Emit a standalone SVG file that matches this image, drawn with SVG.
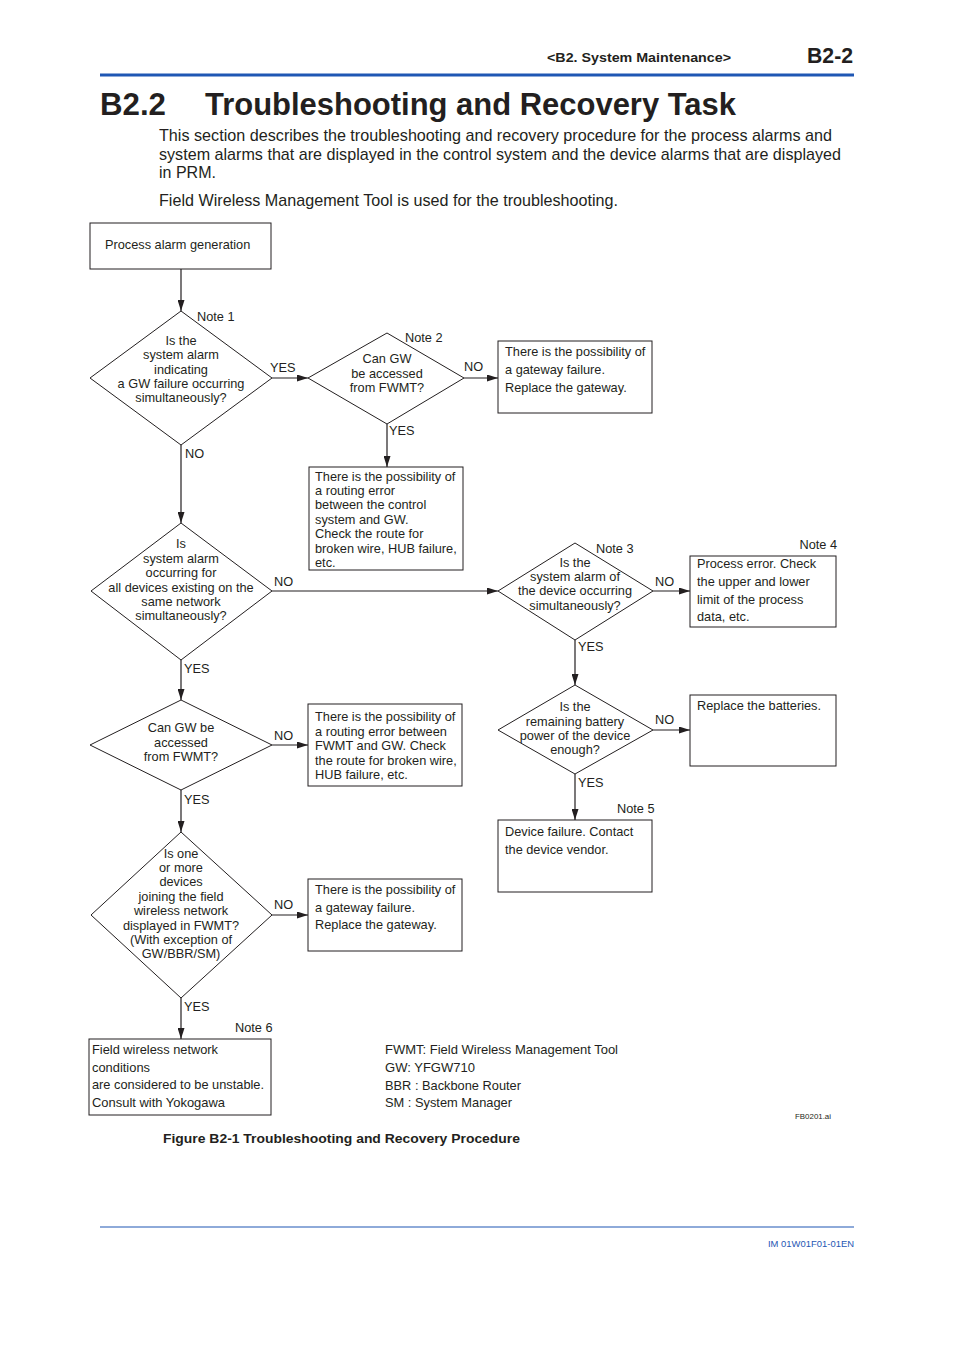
<svg xmlns="http://www.w3.org/2000/svg" width="954" height="1350" viewBox="0 0 954 1350">
<style>
text{font-family:"Liberation Sans",Arial,sans-serif;fill:#231f20}
.t{font-size:12.75px}
.c{font-size:12.75px;text-anchor:middle}
.n{font-size:12.75px}
.lbl{font-size:12.75px}
.box{fill:#fff;stroke:#231f20;stroke-width:1}
.dia{fill:#fff;stroke:#231f20;stroke-width:1}
.con{stroke:#231f20;stroke-width:1.2;fill:none;marker-end:url(#ah)}
</style>
<defs>
<marker id="ah" viewBox="0 0 11 7" refX="11" refY="3.5" markerWidth="11" markerHeight="7" markerUnits="userSpaceOnUse" orient="auto">
<path d="M0,0 L11,3.5 L0,7 Z" fill="#231f20"/>
</marker>
</defs>
<rect width="954" height="1350" fill="#fff"/>
<g id="header">
<text x="731" y="62" font-size="13" font-weight="bold" text-anchor="end" textLength="184" lengthAdjust="spacingAndGlyphs">&lt;B2.  System Maintenance&gt;</text>
<text x="853" y="63" font-size="22" font-weight="bold" text-anchor="end" textLength="46" lengthAdjust="spacingAndGlyphs">B2-2</text>
<rect x="100" y="73.5" width="754" height="3" fill="#1f57b4"/>
<text x="100" y="115" font-size="32" font-weight="bold" textLength="66" lengthAdjust="spacingAndGlyphs">B2.2</text>
<text x="205" y="115" font-size="32" font-weight="bold" textLength="531" lengthAdjust="spacingAndGlyphs">Troubleshooting and Recovery Task</text>
<text x="159" y="141" font-size="17" textLength="673" lengthAdjust="spacingAndGlyphs">This section describes the troubleshooting and recovery procedure for the process alarms and</text>
<text x="159" y="160" font-size="17" textLength="682" lengthAdjust="spacingAndGlyphs">system alarms that are displayed in the control system and the device alarms that are displayed</text>
<text x="159" y="178" font-size="17" textLength="57" lengthAdjust="spacingAndGlyphs">in PRM.</text>
<text x="159" y="206" font-size="17" textLength="459" lengthAdjust="spacingAndGlyphs">Field Wireless Management Tool is used for the troubleshooting.</text>
</g>
<g id="connectors">
<line class="con" x1="181" y1="269" x2="181" y2="311"/>
<line class="con" x1="272" y1="378" x2="308" y2="378"/>
<line class="con" x1="464" y1="378" x2="498" y2="378"/>
<line class="con" x1="387" y1="424" x2="387" y2="467"/>
<line class="con" x1="181" y1="445" x2="181" y2="523"/>
<line class="con" x1="272" y1="591" x2="498" y2="591"/>
<line class="con" x1="653" y1="591" x2="690" y2="591"/>
<line class="con" x1="575" y1="640" x2="575" y2="685"/>
<line class="con" x1="653" y1="730" x2="690" y2="730"/>
<line class="con" x1="575" y1="774" x2="575" y2="820"/>
<line class="con" x1="181" y1="660" x2="181" y2="700"/>
<line class="con" x1="272" y1="745" x2="308" y2="745"/>
<line class="con" x1="181" y1="790" x2="181" y2="832"/>
<line class="con" x1="272" y1="915" x2="308" y2="915"/>
<line class="con" x1="181" y1="998" x2="181" y2="1039"/>
<text class="lbl" x="270" y="372">YES</text>
<text class="lbl" x="464" y="371">NO</text>
<text class="lbl" x="389" y="435">YES</text>
<text class="lbl" x="185" y="458">NO</text>
<text class="lbl" x="274" y="586">NO</text>
<text class="lbl" x="655" y="586">NO</text>
<text class="lbl" x="578" y="651">YES</text>
<text class="lbl" x="655" y="724">NO</text>
<text class="lbl" x="578" y="787">YES</text>
<text class="lbl" x="184" y="673">YES</text>
<text class="lbl" x="274" y="740">NO</text>
<text class="lbl" x="184" y="804">YES</text>
<text class="lbl" x="274" y="909">NO</text>
<text class="lbl" x="184" y="1011">YES</text>
</g>
<g id="start">
<rect class="box" x="90" y="223" width="181" height="46"/>
<text class="t" x="105" y="249">Process alarm generation</text>
</g>
<g id="d1">
<polygon class="dia" points="181,311 272,378 181,445 90,378"/>
<text class="n" x="197" y="321">Note 1</text>
<text class="c" x="181" y="345">Is the</text>
<text class="c" x="181" y="359">system alarm</text>
<text class="c" x="181" y="374">indicating</text>
<text class="c" x="181" y="388">a GW failure occurring</text>
<text class="c" x="181" y="402">simultaneously?</text>
</g>
<g id="d2">
<polygon class="dia" points="387,333 464,378 387,424 308,378"/>
<text class="n" x="405" y="342">Note 2</text>
<text class="c" x="387" y="363">Can GW</text>
<text class="c" x="387" y="378">be accessed</text>
<text class="c" x="387" y="392">from FWMT?</text>
</g>
<g id="gwfail1">
<rect class="box" x="498" y="341" width="154" height="72"/>
<text class="t" x="505" y="356">There is the possibility of</text>
<text class="t" x="505" y="374">a gateway failure.</text>
<text class="t" x="505" y="392">Replace the gateway.</text>
</g>
<g id="route1">
<rect class="box" x="309" y="467" width="154" height="103"/>
<text class="t" x="315" y="481">There is the possibility of</text>
<text class="t" x="315" y="495">a routing error</text>
<text class="t" x="315" y="509">between the control</text>
<text class="t" x="315" y="524">system and GW.</text>
<text class="t" x="315" y="538">Check the route for</text>
<text class="t" x="315" y="553">broken wire, HUB failure,</text>
<text class="t" x="315" y="567">etc.</text>
</g>
<g id="d3">
<polygon class="dia" points="181,523 272,591 181,660 91,591"/>
<text class="c" x="181" y="548">Is</text>
<text class="c" x="181" y="563">system alarm</text>
<text class="c" x="181" y="577">occurring for</text>
<text class="c" x="181" y="592">all devices existing on the</text>
<text class="c" x="181" y="606">same network</text>
<text class="c" x="181" y="620">simultaneously?</text>
</g>
<g id="d4">
<polygon class="dia" points="575,543 653,591 575,640 498,591"/>
<text class="n" x="596" y="553">Note 3</text>
<text class="c" x="575" y="567">Is the</text>
<text class="c" x="575" y="581">system alarm of</text>
<text class="c" x="575" y="595">the device occurring</text>
<text class="c" x="575" y="610">simultaneously?</text>
</g>
<g id="procerr">
<text class="n" x="837" y="549" text-anchor="end">Note 4</text>
<rect class="box" x="690" y="556" width="146" height="71"/>
<text class="t" x="697" y="568">Process error. Check</text>
<text class="t" x="697" y="586">the upper and lower</text>
<text class="t" x="697" y="604">limit of the process</text>
<text class="t" x="697" y="621">data, etc.</text>
</g>
<g id="d5">
<polygon class="dia" points="575,685 653,730 575,774 498,730"/>
<text class="c" x="575" y="711">Is the</text>
<text class="c" x="575" y="726">remaining battery</text>
<text class="c" x="575" y="740">power of the device</text>
<text class="c" x="575" y="754">enough?</text>
</g>
<g id="battery">
<rect class="box" x="690" y="695" width="146" height="71"/>
<text class="t" x="697" y="710">Replace the batteries.</text>
</g>
<g id="devfail">
<text class="n" x="617" y="813">Note 5</text>
<rect class="box" x="498" y="820" width="154" height="72"/>
<text class="t" x="505" y="836">Device failure. Contact</text>
<text class="t" x="505" y="854">the device vendor.</text>
</g>
<g id="d6">
<polygon class="dia" points="181,700 272,745 181,790 90,745"/>
<text class="c" x="181" y="732">Can GW be</text>
<text class="c" x="181" y="747">accessed</text>
<text class="c" x="181" y="761">from FWMT?</text>
</g>
<g id="route2">
<rect class="box" x="308" y="704" width="154" height="82"/>
<text class="t" x="315" y="721">There is the possibility of</text>
<text class="t" x="315" y="736">a routing error between</text>
<text class="t" x="315" y="750">FWMT and GW. Check</text>
<text class="t" x="315" y="765">the route for broken wire,</text>
<text class="t" x="315" y="779">HUB failure, etc.</text>
</g>
<g id="d7">
<polygon class="dia" points="181,832 272,915 181,998 91,915"/>
<text class="c" x="181" y="858">Is one</text>
<text class="c" x="181" y="872">or more</text>
<text class="c" x="181" y="886">devices</text>
<text class="c" x="181" y="901">joining the field</text>
<text class="c" x="181" y="915">wireless network</text>
<text class="c" x="181" y="930">displayed in FWMT?</text>
<text class="c" x="181" y="944">(With exception of</text>
<text class="c" x="181" y="958">GW/BBR/SM)</text>
</g>
<g id="gwfail2">
<rect class="box" x="308" y="879" width="154" height="72"/>
<text class="t" x="315" y="894">There is the possibility of</text>
<text class="t" x="315" y="912">a gateway failure.</text>
<text class="t" x="315" y="929">Replace the gateway.</text>
</g>
<g id="unstable">
<text class="n" x="235" y="1032">Note 6</text>
<rect class="box" x="89" y="1039" width="182" height="76"/>
<text class="t" x="92" y="1054" textLength="126" lengthAdjust="spacingAndGlyphs">Field wireless network</text>
<text class="t" x="92" y="1072" textLength="58" lengthAdjust="spacingAndGlyphs">conditions</text>
<text class="t" x="92" y="1089" textLength="172" lengthAdjust="spacingAndGlyphs">are considered to be unstable.</text>
<text class="t" x="92" y="1107" textLength="133" lengthAdjust="spacingAndGlyphs">Consult with Yokogawa</text>
</g>
<g id="legend">
<text class="t" x="385" y="1054" textLength="233" lengthAdjust="spacingAndGlyphs">FWMT: Field Wireless Management Tool</text>
<text class="t" x="385" y="1072" textLength="90" lengthAdjust="spacingAndGlyphs">GW: YFGW710</text>
<text class="t" x="385" y="1090" textLength="136" lengthAdjust="spacingAndGlyphs">BBR : Backbone Router</text>
<text class="t" x="385" y="1107" textLength="127" lengthAdjust="spacingAndGlyphs">SM : System Manager</text>
<text x="795" y="1119" font-size="8" textLength="36" lengthAdjust="spacingAndGlyphs">FB0201.ai</text>
</g>
<g id="footer">
<text x="163" y="1143" font-size="13.5" font-weight="bold" textLength="357" lengthAdjust="spacingAndGlyphs">Figure B2-1 Troubleshooting and Recovery Procedure</text>
<rect x="100" y="1226.5" width="754" height="1" fill="#1f57b4"/>
<text x="854" y="1247" font-size="9" text-anchor="end" style="fill:#1f57b4" textLength="86" lengthAdjust="spacingAndGlyphs">IM 01W01F01-01EN</text>
</g>
</svg>
